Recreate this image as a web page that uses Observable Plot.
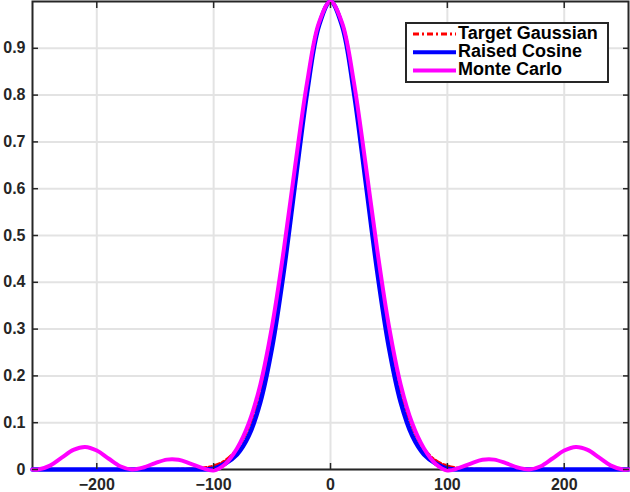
<!DOCTYPE html>
<html><head><meta charset="utf-8">
<script src="https://cdn.jsdelivr.net/npm/d3@7"></script>
<script src="https://cdn.jsdelivr.net/npm/@observablehq/plot@0.6"></script>
<style>
body{margin:0;background:#fff}
#chart{width:630px;height:492px}
</style>
</head><body><div id="chart"></div>
<script>
// x positions (samples)
const xs = [-255,-250,-240,-230,-220,-210,-200,-190,-180,-170,-160,-150,-140,-130,-120,-110,-100,-90,-80,-70,-60,-50,-40,-30,-20,-10,
  0,10,20,30,40,50,60,70,80,90,100,110,120,130,140,150,160,170,180,190,200,210,220,230,240,250,255];

const targetGaussian = [0,0,0,0,0,0,0,0,0,0,0,0,0,0.0003,0.0009,0.0027,0.0076,0.0192,0.0439,0.0914,0.1724,0.2950,0.4578,0.6444,0.8226,0.9523,
  1,0.9523,0.8226,0.6444,0.4578,0.2950,0.1724,0.0914,0.0439,0.0192,0.0076,0.0027,0.0009,0.0003,0,0,0,0,0,0,0,0,0,0,0,0,0];

const raisedCosine = [0,0,0,0,0,0,0,0,0,0,0,0,0,0,0,0,0.002,0.0129,0.0321,0.0718,0.1444,0.2609,0.4232,0.6165,0.8065,0.9477,
  1,0.9477,0.8065,0.6165,0.4232,0.2609,0.1444,0.0718,0.0321,0.0129,0.002,0,0,0,0,0,0,0,0,0,0,0,0,0,0,0,0];

const monteCarlo = [0,0.0001,0.0083,0.0254,0.0418,0.048,0.0405,0.0235,0.0069,0,0.0043,0.0137,0.0211,0.0207,0.0127,0.0035,-0.002,0.012,0.045,0.0983,0.1819,0.3062,0.4689,0.6531,0.8275,0.9538,
  1,0.9538,0.8275,0.6531,0.4689,0.3062,0.1819,0.0983,0.045,0.012,-0.002,0.0035,0.0127,0.0207,0.0211,0.0137,0.0043,0,0.0069,0.0235,0.0405,0.048,0.0418,0.0254,0.0083,0.0001,0];

const seriesNames = ["Target Gaussian", "Raised Cosine", "Monte Carlo"];
const xTicks = [-200, -100, 0, 100, 200];
const yTicks = [0, 0.1, 0.2, 0.3, 0.4, 0.5, 0.6, 0.7, 0.8, 0.9];

const ink = "#262626";
const colors = ["#ff0000", "#0000ff", "#ff00ff"];
const widths = [3, 4.5, 4];
const dashes = ["6,3,2,3", null, null];
const fmtX = d => d < 0 ? "\u2212" + Math.abs(d) : String(d);
const fmtY = d => d === 0 ? "0" : d.toFixed(1);

const chart = Plot.plot({
  width: 630, height: 492,
  marginLeft: 32, marginRight: 2, marginTop: 1, marginBottom: 23,
  x: {domain: [-255, 255]},
  y: {domain: [0, 1]},
  style: {fontFamily: "'Liberation Sans', Arial, Helvetica, sans-serif", fontSize: "16px", fontWeight: "bold", background: "white", overflow: "visible"},
  marks: [
    Plot.gridX(xTicks, {stroke: "#e3e3e3", strokeOpacity: 1, strokeWidth: 2}),
    Plot.gridY(yTicks, {stroke: "#e3e3e3", strokeOpacity: 1, strokeWidth: 2}),
    Plot.frame({stroke: ink, strokeWidth: 2}),
    Plot.line(targetGaussian, {x: xs, y: targetGaussian, stroke: colors[0], strokeWidth: widths[0], strokeDasharray: dashes[0], curve: "catmull-rom"}),
    Plot.line(raisedCosine, {x: xs, y: raisedCosine, stroke: colors[1], strokeWidth: widths[1], curve: "catmull-rom"}),
    Plot.line(monteCarlo, {x: xs, y: monteCarlo, stroke: colors[2], strokeWidth: widths[2], curve: "catmull-rom"}),
    Plot.axisX(xTicks, {anchor: "bottom", tickSize: -6, tickPadding: 15, tickFormat: fmtX, color: ink, strokeWidth: 1.5, label: null}),
    Plot.axisX(xTicks, {anchor: "top", tickSize: -6, tickFormat: () => "", color: ink, strokeWidth: 1.5, label: null}),
    Plot.axisY(yTicks, {anchor: "left", tickSize: -6, tickPadding: 13, tickFormat: fmtY, color: ink, strokeWidth: 1.5, label: null}),
    Plot.axisY(yTicks, {anchor: "right", tickSize: -6, tickFormat: () => "", color: ink, strokeWidth: 1.5, label: null})
  ]
});
document.getElementById("chart").appendChild(chart);

// legend (inside plot, top right)
const svg = d3.select(chart);
const lg = svg.append("g")
  .attr("font-family", "'Liberation Sans', Arial, Helvetica, sans-serif")
  .attr("font-weight", "bold").attr("font-size", "18px").attr("text-anchor", "start");
lg.append("rect").attr("x", 406).attr("y", 23).attr("width", 202).attr("height", 59)
  .attr("fill", "white").attr("stroke", ink).attr("stroke-width", 2);
seriesNames.forEach((name, i) => {
  const y = 34 + i * 18.3;
  const ln = lg.append("line").attr("x1", 413).attr("x2", 456).attr("y1", y).attr("y2", y)
    .attr("stroke", colors[i]).attr("stroke-width", Math.min(widths[i], 4));
  if (dashes[i]) ln.attr("stroke-dasharray", dashes[i]);
  lg.append("text").attr("x", 458).attr("y", y + 4.5).attr("fill", "black")
    .attr("text-anchor", "start").text(name);
});
</script>
</body></html>
